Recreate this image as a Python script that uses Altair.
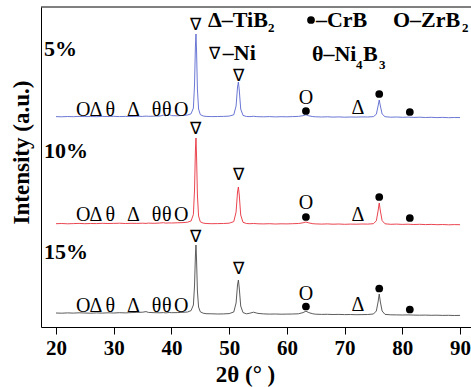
import altair as alt
import pandas as pd

# 2θ sampling grid shared by the three XRD patterns
TWO_THETA = [
    20, 21, 22, 23, 24, 25, 26, 27, 28, 29, 30, 31, 32, 33, 34,
    35, 35.6, 36, 37, 38, 38.6, 39, 39.6, 40, 41, 42, 42.8, 43.4, 43.8,
    44.0, 44.15, 44.25, 44.35, 44.5, 44.7, 45.0, 45.5,
    46, 47, 48, 49, 50, 50.8,
    51.2, 51.45, 51.6, 51.75, 52.0, 52.4,
    53, 53.6, 54.2, 54.8, 55, 56, 57, 58, 59, 60, 61, 62, 62.8,
    63.3, 63.8, 64.5, 65, 66, 67, 68, 69, 70, 71, 72, 73, 74, 75,
    75.5, 75.8, 76.0, 76.2, 76.5, 77,
    78, 79, 80, 81, 82, 83, 84, 85, 86, 87, 88, 89, 90,
]

# Intensities (a.u., above each pattern's own baseline)
INT_5 = [
    0.4, 0.2, 0.5, 0.3, 0.6, 0.4, 0.5, 0.3, 0.6, 0.5, 0.7, 0.4, 0.6, 0.5, 0.7,
    0.6, 0.9, 0.7, 0.8, 1.0, 1.8, 1.1, 2.6, 1.4, 1.2, 1.5, 2.0, 3.2, 9,
    32, 70, 83, 66, 28, 8, 2.4, 1.0,
    0.6, 0.4, 0.5, 0.6, 0.9, 2.2,
    11, 30, 35, 27, 8, 1.6,
    0.5, 0.4, 0.7, 0.4, 0.3, 0.2, 0.4, 0.1, 0.3, 0.2, 0.4, 0.6, 1.3,
    2.2, 1.2, 0.4, 0.2, 0.0, 0.2, -0.1, 0.1, -0.2, 0.0, -0.1, 0.1, 0.0, 0.4,
    2.8, 11, 17, 11, 3, 0.3,
    -0.2, 0.0, -0.3, -0.1, -0.4, -0.2, -0.5, -0.3, -0.6, -0.4, -0.7, -0.5, -0.6,
]
INT_10 = [
    0.3, 0.5, 0.2, 0.4, 0.6, 0.3, 0.5, 0.4, 0.7, 0.5, 0.6, 0.8, 0.5, 0.7, 0.6,
    0.8, 0.6, 0.9, 0.7, 1.0, 1.3, 0.9, 1.1, 1.0, 1.2, 1.4, 1.8, 3.0, 9.5,
    34, 73, 86, 68, 29, 8, 2.2, 0.9,
    0.5, 0.3, 0.4, 0.5, 0.8, 2.4,
    12, 32, 37, 29, 9, 1.7,
    0.5, 0.3, 0.5, 0.3, 0.2, 0.1, 0.3, 0.0, 0.2, 0.1, 0.3, 0.5, 1.2,
    2.0, 1.1, 0.3, 0.1, -0.1, 0.1, -0.2, 0.0, -0.3, -0.1, -0.2, 0.0, -0.1, 0.3,
    3.2, 13, 21, 13, 3.4, 0.2,
    -0.3, -0.1, -0.4, -0.2, -0.5, -0.3, -0.6, -0.4, -0.7, -0.5, -0.8, -0.6, -0.7,
]
INT_15 = [
    1.0, 0.8, 1.1, 0.9, 1.2, 1.0, 0.8, 1.1, 0.9, 1.2, 1.0, 1.3, 1.1, 1.4, 1.6,
    1.8, 2.4, 1.6, 1.3, 1.2, 1.4, 1.1, 1.5, 1.3, 1.4, 1.7, 2.0, 3.4, 9,
    28, 58, 69, 54, 23, 7, 2.2, 0.8,
    0.3, 0.2, 0.0, 0.1, 0.4, 2.0,
    11, 29, 34, 26, 8, 1.4,
    0.2, 0.8, 1.8, 0.9, 0.6, 0.1, -0.1, 0.0, -0.2, -0.1, 0.0, 0.2, 1.4,
    2.8, 1.4, 0.2, -0.2, -0.4, -0.3, -0.5, -0.4, -0.6, -0.5, -0.7, -0.6, -0.5, 0.0,
    3.0, 12, 20, 12, 3.0, -0.4,
    -0.8, -0.9, -1.0, -0.9, -1.1, -1.2, -1.1, -1.3, -1.2, -1.4, -1.3, -1.5, -1.4,
]

PATTERNS = ["5%", "10%", "15%"]
COLORS = ["#5a68cf", "#e8303c", "#4a4a4a"]
OFFSETS = {"5%": 210, "10%": 103, "15%": 13}

# Phase letters marked along each pattern
SYMBOLS = ["O", "Δ", "θ", "Δ", "θ", "θ", "O", "O", "Δ"]
SYMBOL_POS = [24.7, 26.9, 29.4, 33.4, 37.4, 39.2, 41.7, 63.3, 72.3]
SYMBOL_LIFT = {
    "5%": [7, 7, 7, 7, 7, 7, 7, 19, 9],
    "10%": [9, 9, 9, 9, 9, 9, 9, 21, 9],
    "15%": [8.5, 8.5, 8.5, 8.5, 8.5, 8.5, 8.5, 20.5, 9.5],
}
# Ni (∇) markers above the two nickel reflections
NABLA_POS = [44.2, 51.6]
NABLA_LIFT = {"5%": [92.5, 41], "10%": [95, 49], "15%": [77.5, 45.5]}
# CrB (●) markers
DOT_POS = [63.3, 76.0, 81.3]
DOT_LIFT = {"5%": [6, 23, 5], "10%": [7, 27, 6], "15%": [7.5, 25.5, 4.5]}

# Phase key in the upper part of the plot
KEY_TEXT = ["Δ–TiB", "–CrB", "O–ZrB", "–Ni", "θ–Ni", "B"]
KEY_X = [46.33, 65.04, 78.38, 48.9, 64.35, 73.19]
KEY_Y = [300, 300, 300, 267, 266, 266]
KEY_NABLA_X = [47.5]
KEY_NABLA_Y = [273]
SUB_TEXT = ["2", "2", "4", "3"]
SUB_X = [56.73, 90.34, 71.97, 75.96]
SUB_Y = [295, 295, 258, 258]
KEY_DOT_X = [64.18]
KEY_DOT_Y = [307]

LABEL_X = [17.92, 17.92, 17.92]
LABEL_Y = [271, 169, 68]

FONT = "Liberation Serif"

rows = []
for p, ints in zip(PATTERNS, [INT_5, INT_10, INT_15]):
    for t, v in zip(TWO_THETA, ints):
        rows.append({"pattern": p, "tt": t, "y": v + OFFSETS[p]})
lines_df = pd.DataFrame(rows)

sym_rows, nab_rows, dot_rows = [], [], []
for p in PATTERNS:
    for s, t, h in zip(SYMBOLS, SYMBOL_POS, SYMBOL_LIFT[p]):
        sym_rows.append({"text": s, "tt": t, "y": h + OFFSETS[p]})
    for t, h in zip(NABLA_POS, NABLA_LIFT[p]):
        nab_rows.append({"text": "∇", "tt": t, "y": h + OFFSETS[p]})
    for t, h in zip(DOT_POS, DOT_LIFT[p]):
        dot_rows.append({"tt": t, "y": h + OFFSETS[p]})
for t, v in zip(KEY_NABLA_X, KEY_NABLA_Y):
    nab_rows.append({"text": "∇", "tt": t, "y": v})
sym_df = pd.DataFrame(sym_rows)
nab_df = pd.DataFrame(nab_rows)
dot_df = pd.DataFrame(dot_rows + [{"tt": a, "y": b} for a, b in zip(KEY_DOT_X, KEY_DOT_Y)])

key_df = pd.DataFrame({"text": KEY_TEXT, "tt": KEY_X, "y": KEY_Y})
sub_df = pd.DataFrame({"text": SUB_TEXT, "tt": SUB_X, "y": SUB_Y})
lab_df = pd.DataFrame({"text": PATTERNS, "tt": LABEL_X, "y": LABEL_Y})

x_scale = alt.Scale(domain=[17.4, 91.9], nice=False, zero=False)
y_scale = alt.Scale(domain=[0, 320], nice=False, zero=False)

x_enc = alt.X(
    "tt:Q",
    scale=x_scale,
    axis=alt.Axis(
        values=list(range(20, 91, 5)),
        labelExpr="datum.value % 10 === 0 ? datum.label : ''",
        tickSize={"condition": {"test": "datum.value % 10 === 0", "value": 7}, "value": 4},
        tickColor="black",
        tickWidth=1,
        domainColor="black",
        domainWidth=1,
        grid=False,
        labelFont=FONT,
        labelFontWeight="bold",
        labelFontSize=21,
        labelColor="black",
        labelPadding=3,
        title="2θ (°  )",
        titleFont=FONT,
        titleFontWeight="bold",
        titleFontSize=23,
        titleColor="black",
        titleX=204,
        titleY=54,
        titleBaseline="alphabetic",
        titleAlign="center",
    ),
)
y_enc = alt.Y(
    "y:Q",
    scale=y_scale,
    axis=alt.Axis(
        ticks=False,
        labels=False,
        grid=False,
        domainColor="black",
        domainWidth=1,
        title="Intensity (a.u.)",
        titleFont=FONT,
        titleFontWeight="bold",
        titleFontSize=23,
        titleColor="black",
        titleAngle=270,
        titleX=-13,
        titleY=145,
        titleAlign="center",
        titleBaseline="alphabetic",
    ),
)

lines = alt.Chart(lines_df).mark_line(strokeWidth=0.9).encode(
    x=x_enc,
    y=y_enc,
    color=alt.Color("pattern:N", scale=alt.Scale(domain=PATTERNS, range=COLORS), legend=None),
    detail="pattern:N",
)

top_border = alt.Chart(pd.DataFrame({"a": [0]})).mark_rule(color="black", strokeWidth=1).encode(
    y=alt.value(0), x=alt.value(0), x2=alt.value(430)
)

symbols = alt.Chart(sym_df).mark_text(
    font=FONT, fontSize=20, align="center", baseline="middle", color="black"
).encode(x=alt.X("tt:Q", scale=x_scale), y=alt.Y("y:Q", scale=y_scale), text="text:N")

nablas = alt.Chart(nab_df).mark_text(
    font=FONT, fontSize=17, align="center", baseline="middle", color="black"
).encode(x=alt.X("tt:Q", scale=x_scale), y=alt.Y("y:Q", scale=y_scale), text="text:N")

dots = alt.Chart(dot_df).mark_circle(size=60, color="black", opacity=1).encode(
    x=alt.X("tt:Q", scale=x_scale), y=alt.Y("y:Q", scale=y_scale)
)

key = alt.Chart(key_df).mark_text(
    font=FONT, fontSize=22, fontWeight="bold", align="left", baseline="alphabetic", color="black"
).encode(x=alt.X("tt:Q", scale=x_scale), y=alt.Y("y:Q", scale=y_scale), text="text:N")

subs = alt.Chart(sub_df).mark_text(
    font=FONT, fontSize=13, fontWeight="bold", align="left", baseline="alphabetic", color="black"
).encode(x=alt.X("tt:Q", scale=x_scale), y=alt.Y("y:Q", scale=y_scale), text="text:N")

labels = alt.Chart(lab_df).mark_text(
    font=FONT, fontSize=22, fontWeight="bold", align="left", baseline="alphabetic", color="black"
).encode(x=alt.X("tt:Q", scale=x_scale), y=alt.Y("y:Q", scale=y_scale), text="text:N")

chart = (
    alt.layer(lines, top_border, symbols, nablas, dots, key, subs, labels)
    .properties(
        width=430,
        height=320,
        padding={"left": 41, "top": 7, "right": 0, "bottom": 60},
        autosize=alt.AutoSizeParams(type="none"),
        background="white",
    )
    .configure_view(strokeWidth=0)
)

chart.save("out.html", embed_options={"renderer": "svg", "actions": False})
